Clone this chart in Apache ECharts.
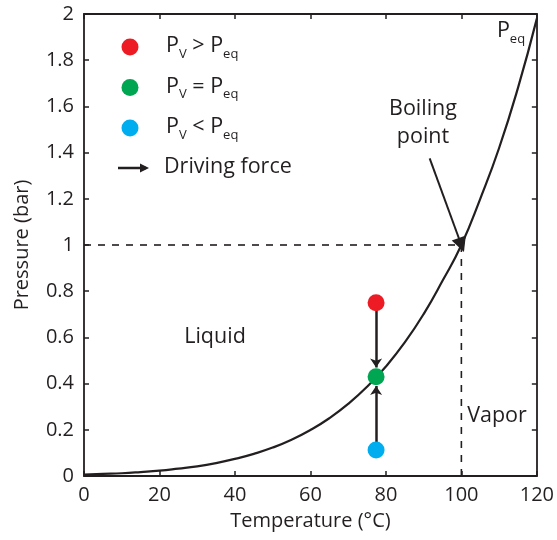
<!DOCTYPE html>
<html><head><meta charset="utf-8">
<script src="https://cdn.jsdelivr.net/npm/echarts@6/dist/echarts.min.js"></script>
<style>html,body{margin:0;padding:0;background:#fff}#c{width:557px;height:540px}</style>
</head><body><div id="c"></div>
<script>
// Equilibrium vapor pressure curve
const temps = [0,5,10,15,20,25,30,35,40,45,50,55,60,65,70,75,80,85,90,95,100,105,110,115,120];
const peq   = [0.006,0.009,0.012,0.017,0.023,0.032,0.042,0.056,0.074,0.096,0.123,0.157,0.199,0.250,0.312,0.386,0.474,0.578,0.701,0.845,1.0,1.2,1.42,1.68,1.98];
// State points
const stateT = 77.4;
const stateNames = ['Pv > Peq','Pv = Peq','Pv < Peq'];
const stateP = [0.75, 0.43, 0.113];
const stateColors = ['#ed1c24','#00a651','#00aeef'];
// Boiling point
const boilT = 100, boilP = 1.0;
const xTicks = [0,20,40,60,80,100,120];
const yTicks = [0,0.2,0.4,0.6,0.8,1,1.2,1.4,1.6,1.8,2];

const FONT = 'Open Sans';
const TXT = '#231f20';
const FS = 21.5;
const chart = echarts.init(document.getElementById('c'), null, {renderer:'canvas'});
const r = 0.04; // dot radius in bar
const axisCommon = {
  axisLine:{show:true,onZero:false,lineStyle:{color:TXT,width:1.8}},
  axisTick:{show:true,inside:true,length:5,lineStyle:{color:TXT,width:1.5}},
  splitLine:{show:false}
};
const rich = {p:{fontFamily:FONT,fontSize:FS,fill:TXT},s:{fontFamily:FONT,fontSize:13,fill:TXT,padding:[16,0,0,0]}};
chart.setOption({
  animation:false,
  grid:{left:84,right:19,top:14,bottom:64},
  xAxis:[
    Object.assign({type:'value',min:0,max:120,interval:20,position:'bottom',
      name:'Temperature (°C)',nameLocation:'middle',nameGap:35,
      nameTextStyle:{fontFamily:FONT,fontSize:20,color:TXT},
      axisLabel:{fontFamily:FONT,fontSize:20,color:TXT,margin:9}},axisCommon),
    Object.assign({type:'value',min:0,max:120,interval:20,position:'top',axisLabel:{show:false}},axisCommon)
  ],
  yAxis:[
    Object.assign({type:'value',min:0,max:2,interval:0.2,position:'left',
      name:'Pressure (bar)',nameLocation:'middle',nameGap:52,
      nameTextStyle:{fontFamily:FONT,fontSize:20,color:TXT},
      axisLabel:{fontFamily:FONT,fontSize:20,color:TXT,margin:10,formatter:v=>String(+v.toFixed(1))}},axisCommon),
    Object.assign({type:'value',min:0,max:2,interval:0.2,position:'right',axisLabel:{show:false}},axisCommon)
  ],
  series:[
    {type:'line',data:temps.map((t,i)=>[t,peq[i]]),smooth:true,showSymbol:false,
     lineStyle:{color:TXT,width:2.2},z:3},
    {type:'line',data:[[0,boilP],[boilT,boilP]],showSymbol:false,
     lineStyle:{color:TXT,width:1.6,type:[7,7]},z:2},
    {type:'line',data:[[boilT,boilP],[boilT,0]],showSymbol:false,
     lineStyle:{color:TXT,width:1.6,type:[7,7]},z:2},
    {type:'lines',coordinateSystem:'cartesian2d',symbol:['none','arrow'],symbolSize:[8,9],
     lineStyle:{color:TXT,width:2.5,opacity:1},z:4,
     data:[
       {coords:[[stateT,stateP[0]],[stateT,stateP[1]+r]]},
       {coords:[[stateT,stateP[2]],[stateT,stateP[1]-r]]}
     ]},
    {type:'lines',coordinateSystem:'cartesian2d',symbol:['none','triangle'],symbolSize:[13,15],
     lineStyle:{color:TXT,width:2,opacity:1},z:4,
     data:[{coords:[[91.6,1.375],[boilT,boilP]]}]},
    {type:'scatter',symbolSize:17,z:5,
     data:stateP.map((p,i)=>({value:[stateT,p],itemStyle:{color:stateColors[i],opacity:1}}))}
  ],
  graphic:[
    // legend
    ...stateColors.map((c,i)=>({type:'circle',shape:{cx:130,cy:47+i*40.5,r:8.5},style:{fill:c}})),
    ...['>','=','<'].map((s,i)=>({type:'text',x:166,y:46+i*40.5,
      style:{text:'{p|P}{s|V}{p| '+s+' P}{s|eq}',verticalAlign:'middle',rich:rich}})),
    {type:'line',shape:{x1:118,y1:168,x2:146,y2:168},style:{stroke:TXT,lineWidth:2.5}},
    {type:'polygon',shape:{points:[[149,168],[140,163.5],[140,172.5]]},style:{fill:TXT}},
    {type:'text',x:164,y:167,style:{text:'Driving force',fontFamily:FONT,fontSize:FS,fill:TXT,verticalAlign:'middle'}},
    // annotations
    {type:'text',x:423,y:123,style:{text:'Boiling\npoint',fontFamily:FONT,fontSize:FS,lineHeight:28,fill:TXT,align:'center',verticalAlign:'middle'}},
    {type:'text',x:215,y:337,style:{text:'Liquid',fontFamily:FONT,fontSize:FS,fill:TXT,align:'center',verticalAlign:'middle'}},
    {type:'text',x:497,y:416,style:{text:'Vapor',fontFamily:FONT,fontSize:FS,fill:TXT,align:'center',verticalAlign:'middle'}},
    {type:'text',x:511,y:31,style:{text:'{p|P}{s|eq}',align:'center',verticalAlign:'middle',rich:rich}}
  ]
});
</script></body></html>
